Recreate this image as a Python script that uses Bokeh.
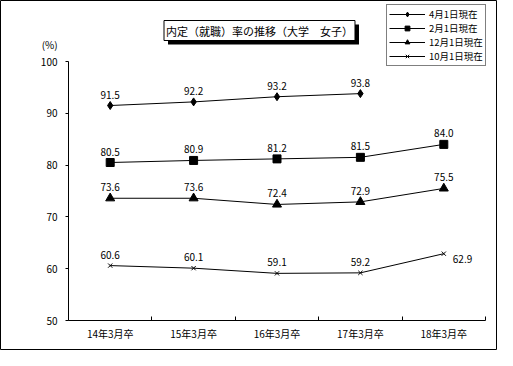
from bokeh.plotting import figure
from bokeh.models import (Range1d, FixedTicker, Label, Legend, LegendItem, ColumnDataSource)
from bokeh.core.properties import value
from bokeh.embed import file_html
from bokeh.resources import INLINE

categories = ["14年3月卒", "15年3月卒", "16年3月卒", "17年3月卒", "18年3月卒"]
series_names = ["4月1日現在", "2月1日現在", "12月1日現在", "10月1日現在"]
apr1 = [91.5, 92.2, 93.2, 93.8]
feb1 = [80.5, 80.9, 81.2, 81.5, 84.0]
dec1 = [73.6, 73.6, 72.4, 72.9, 75.5]
oct1 = [60.6, 60.1, 59.1, 59.2, 62.9]
y_ticks = [50, 60, 70, 80, 90, 100]
title_text = "内定（就職）率の推移（大学　女子）"

FONT = "Noto Sans CJK JP"

W, H = 497, 350
# plot area inside canvas (pixels)
PL, PR, PT, PB = 68, 485, 61, 320
ncat = len(categories)
ymin, ymax = y_ticks[0], y_ticks[-1]
xpx = (PR - PL) / ncat
ypx = (PB - PT) / (ymax - ymin)
x_range = Range1d(-PL / xpx, ncat + (W - PR) / xpx)
y_range = Range1d(ymin - (H - PB) / ypx, ymax + PT / ypx)

p = figure(width=W, height=H, frame_width=W, frame_height=H,
           min_border=0, min_border_left=0, min_border_right=0,
           min_border_top=0, min_border_bottom=0,
           x_range=x_range, y_range=y_range,
           output_backend="svg", toolbar_location=None)
p.outline_line_color = "black"
p.outline_line_width = 1
p.xgrid.visible = False
p.ygrid.visible = False

xpos = [i + 0.5 for i in range(ncat)]
p.xaxis.fixed_location = ymin
p.xaxis.bounds = (0, ncat)
p.xaxis.ticker = FixedTicker(ticks=xpos, minor_ticks=list(range(ncat + 1)))
p.xaxis.major_label_overrides = {x: c for x, c in zip(xpos, categories)}
p.xaxis.major_tick_in = 0
p.xaxis.major_tick_out = 0
p.xaxis.minor_tick_in = 4
p.xaxis.minor_tick_out = 0
p.xaxis.major_label_standoff = 5
p.xaxis.major_label_text_font = FONT
p.xaxis.major_label_text_font_size = "10px"
p.xaxis.major_label_text_color = "black"
p.xaxis.axis_line_color = "black"

p.yaxis.fixed_location = 0
p.yaxis.bounds = (ymin, ymax)
p.yaxis.ticker = FixedTicker(ticks=y_ticks)
p.yaxis.major_tick_in = 0
p.yaxis.major_tick_out = 3
p.yaxis.minor_tick_line_color = None
p.yaxis.major_label_standoff = 8
p.yaxis.major_label_text_font = FONT
p.yaxis.major_label_text_font_size = "10px"
p.yaxis.major_label_text_color = "black"
p.yaxis.axis_line_color = "black"

series = [apr1, feb1, dec1, oct1]
markers = ["diamond", "square", "triangle", "x"]
sizes = [8, 8, 9, 6]
items = []
for name, vals, mk, sz in zip(series_names, series, markers, sizes):
    xs = xpos[:len(vals)]
    src = ColumnDataSource(dict(x=xs, y=vals, t=[f"{v:.1f}" for v in vals]))
    ln = p.line("x", "y", source=src, line_color="black", line_width=1)
    sc = p.scatter("x", "y", source=src, marker=mk, size=sz, fill_color="black",
                   line_color="black", line_width=1)
    items.append(LegendItem(label=name, renderers=[ln, sc]))
    if name == "10月1日現在":
        s1 = ColumnDataSource(dict(x=xs[:-1], y=vals[:-1], t=[f"{v:.1f}" for v in vals[:-1]]))
        p.text("x", "y", text="t", source=s1, text_align="center", text_baseline="bottom",
               y_offset=-7, text_font=value(FONT), text_font_size="10px", text_color="black")
        s2 = ColumnDataSource(dict(x=xs[-1:], y=vals[-1:], t=[f"{v:.1f}" for v in vals[-1:]]))
        p.text("x", "y", text="t", source=s2, text_align="left", text_baseline="middle",
               x_offset=9, y_offset=5, text_font=value(FONT), text_font_size="10px", text_color="black")
    else:
        p.text("x", "y", text="t", source=src, text_align="center", text_baseline="bottom",
               y_offset=-7, text_font=value(FONT), text_font_size="10px", text_color="black")

legend = Legend(items=items, location=(386, H - 66), orientation="vertical",
                label_text_font=FONT, label_text_font_size="9.5px", label_text_color="black",
                glyph_width=36, glyph_height=12, label_height=12, spacing=0, padding=2,
                margin=0, label_standoff=4, border_line_color="black", border_line_width=1,
                background_fill_color="white", background_fill_alpha=1)
p.add_layout(legend, "center")

p.add_layout(Label(x=-0.13, y=ymax + 1.8, text="(%)", text_align="right", text_baseline="bottom",
                   text_font=FONT, text_font_size="10px", text_color="black"))

tx = (259 - PL) / xpx
ty = ymax + (PT - 30) / ypx
shadow = Label(x=tx, y=ty, x_offset=4, y_offset=-4, text=title_text, text_align="center",
               text_baseline="middle", text_font=FONT, text_font_size="11px", text_color="black",
               background_fill_color="black", padding=2)
p.add_layout(shadow)
title = Label(x=tx, y=ty, text=title_text, text_align="center", text_baseline="middle",
              text_font=FONT, text_font_size="11px", text_color="black",
              background_fill_color="white", border_line_color="black", border_line_width=1,
              padding=2)
p.add_layout(title)

open("out.html", "w").write(file_html(p, INLINE))
